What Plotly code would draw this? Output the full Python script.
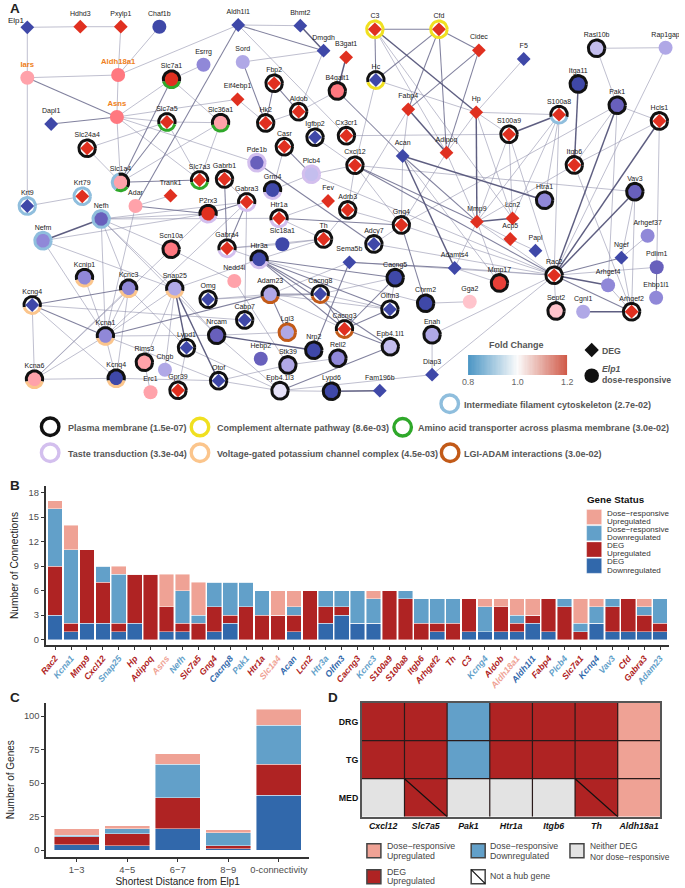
import numpy as np
import plotly.graph_objects as go

W, H = 685, 888
FONT = "Liberation Sans"
INK = "#4D4D4D"
C_DR_UP, C_DR_DOWN, C_DEG_UP, C_DEG_DOWN = "#EFA295", "#62A0C9", "#AF2323", "#3168AB"

# ---------------- Panel A data ----------------
node_names = ["Elp1","Hdhd3","Pxylp1","Chaf1b","Aldh1l1","Bhmt2","Dmgdh","B3gat1","Iars","Aldh18a1","Slc7a1","Esrrg","Sord","Fbp2","B4galt1","Eif4ebp1","Aldob","Asns","Dapl1","Slc7a5","Slc36a1","Hk2","Igfbp2","Cx3cr1","Slc24a4","Casr","Pde1b","Plcb4","Slc1a4","Slc7a3","Gabrb1","Grm4","Krt9","Krt79","Trank1","Adar","P2rx3","Gabra3","Fev","Nefh","Htr1a","Adrb3","Th","Nefm","Scn10a","Gabra4","Slc18a1","Htr3a","Nedd4l","Kcnip1","Kcnc3","Snap25","Omg","Adam23","Cacng8","Kcng4","Cabp7","Kcna1","Nrcam","Lypd1","Lgi3","Cacng3","Nrp2","Hebp2","Rims3","Chgb","Kcnq4","Kcna6","Stk39","Rell2","Otof","Gpr39","Erc1","Epb4.1l3","Lypd6","Fam196b","C3","Cfd","Cidec","F5","Rasl10b","Rap1gap","Hc","Itga11","Fabp4","Hp","S100a8","Pak1","Hcls1","S100a9","Acan","Adipoq","Cxcl12","Itgb6","Htra1","Vav3","Gng4","Mmp9","Lcn2","Acp5","Arhgef37","Adcy7","Sema5b","Adamts4","Mmp17","Rac2","Papl","Ngef","Pdlim1","Arhgef4","Ehbp1l1","Sept2","Cgnl1","Arhgef2","Cacng5","Olfm3","Chrm2","Gga2","Enah","Epb4.1l1","Diap3"]
node_x = [20.7,74.7,116,155.3,235.7,299,322.7,345.7,20.7,113.3,167.7,200.3,240.3,272.3,336.7,235,297.3,112,45,163,217.7,263.7,314,346,81.7,282.7,254.7,310.3,115.7,196.3,221.7,270.7,20.7,76.7,166.7,131,205,244.3,327.3,96,277.3,347.3,322.7,36.7,167.3,224.3,280.7,257,231.7,79,124,171,205,268.3,319.3,25.7,242.3,100.3,213.7,183,285.7,344,312.7,258.7,140,161,111.3,28,286.3,337.3,215.7,174.3,146.3,278.3,330.7,380,375,440.3,481,526.7,601,671.3,376,582.3,409,478.3,562.7,622,665,511.7,403.3,448,354.7,578.3,548,640,402,479,515.3,513,653,374,349,456.3,502,557.7,538.7,626.3,662.3,612.7,661.7,559.7,587.3,636.7,395.7,390.3,426.7,471.7,433.3,390.7,433.3]
node_y = [27.3,26.7,26.7,26.7,25,25.7,50.7,57.3,77.7,75,79.3,64.7,62,83.3,91,99.3,111.7,117,124,122,122.7,123,137.3,135.7,148.3,146.7,162.7,174.3,182.3,180,179,190,206,196.3,195.7,206,213.7,202,201,219,218.3,210,239,240.7,249.3,248.3,244.3,259.3,281,277.7,288.3,288.7,299.3,294.3,294,305,320,336,335.3,347.7,332.3,329,350.3,358.7,362.3,369.7,378.3,379.3,365,358.3,380.7,390.3,392.3,390.7,391.3,390.7,29.3,29.3,50.3,59,48.3,47.7,80,84,109.3,112.3,114.7,105.3,121,134.3,156,152.7,165.3,165,200.3,191.7,225,221.7,218.3,239,235.7,244,262.3,268,283,275.3,250.7,257.7,267.3,285.3,297.7,311,311.7,311.7,277.7,309.3,303.3,301.7,334.7,346.7,374.7]
# pathway membership: K plasma membrane, Y complement, G amino acid, L taste,
# O potassium channel, I intermediate filament, U LGI-ADAM
node_sets = {"Slc7a1":"KG","Fbp2":"K","B4galt1":"K","Aldob":"K","Slc7a5":"KG","Slc36a1":"KG","Hk2":"K","Igfbp2":"K","Cx3cr1":"K","Slc24a4":"K","Casr":"K","Pde1b":"L","Plcb4":"L","Slc1a4":"KIG","Slc7a3":"KG","Gabrb1":"K","Grm4":"KL","Krt9":"I","Krt79":"I","P2rx3":"KL","Gabra3":"KL","Nefh":"I","Htr1a":"KL","Adrb3":"K","Th":"K","Nefm":"I","Scn10a":"K","Gabra4":"KL","Htr3a":"KL","Kcnip1":"KO","Kcnc3":"KO","Snap25":"KO","Omg":"K","Adam23":"KU","Cacng8":"KU","Kcng4":"KO","Cabp7":"K","Kcna1":"KO","Nrcam":"K","Lypd1":"K","Lgi3":"U","Cacng3":"KU","Nrp2":"K","Rims3":"K","Kcnq4":"KO","Kcna6":"KO","Stk39":"K","Rell2":"K","Otof":"K","Gpr39":"K","Epb4.1l3":"K","Lypd6":"K","C3":"Y","Cfd":"Y","Rasl10b":"K","Hc":"KY","Itga11":"K","S100a8":"KI","Pak1":"K","Hcls1":"K","S100a9":"K","Cxcl12":"K","Itgb6":"K","Htra1":"K","Vav3":"K","Gng4":"K","Adcy7":"K","Mmp17":"K","Rac2":"K","Sept2":"K","Arhgef2":"K","Cacng5":"K","Olfm3":"K","Chrm2":"K","Enah":"K","Epb4.1l1":"K"}
orange_labels = ["Iars", "Aldh18a1", "Asns"]

edges_light = "Elp1-Hdhd3 Hdhd3-Pxylp1 Elp1-Iars Pxylp1-Aldh18a1 Chaf1b-Aldh18a1 Aldh1l1-Aldh18a1 Aldh1l1-Bhmt2 Aldh1l1-Cx3cr1 Dmgdh-Sord Dmgdh-Aldob Iars-Aldh18a1 Iars-Krt9 Aldh18a1-Asns Asns-Slc7a1 Asns-Slc7a5 Asns-Eif4ebp1 Asns-Slc1a4 Asns-Slc7a3 Asns-Pde1b Slc7a1-Esrrg Slc7a1-Slc36a1 Slc7a5-Slc36a1 Slc7a5-Slc24a4 Slc7a5-Slc7a3 Slc36a1-Slc1a4 Slc36a1-Slc7a3 Slc24a4-Slc1a4 Eif4ebp1-Hk2 Hk2-Aldob Aldob-B4galt1 Plcb4-Grm4 Casr-Grm4 Plcb4-Cxcl12 Krt9-Krt79 Adar-Trank1 Adar-Kcna1 Gabrb1-Gabra3 Gabra3-Cabp7 Nedd4l-Stk39 Gabra3-Kcna1 P2rx3-Scn10a Scn10a-Kcna6 Scn10a-Nedd4l Nefh-P2rx3 Nefh-Scn10a Nefh-Kcna1 Nefh-Kcnc3 Nefh-Snap25 Nefh-Nrcam Nefh-Htr1a Nefm-Kcna1 Nefm-Snap25 Nefm-P2rx3 Kcnip1-Kcna1 Kcnc3-Kcna1 Kcnc3-Kcnq4 Kcnc3-Kcna6 Kcnc3-Lypd1 Kcng4-Kcna6 Kcng4-Kcnq4 Kcng4-Cabp7 Kcna1-Kcnq4 Kcna1-Kcna6 Kcna1-Snap25 Kcna1-Nrcam Kcna1-Otof Kcna6-Kcnq4 Kcnq4-Otof Snap25-Rims3 Snap25-Chgb Snap25-Nrcam Snap25-Htr3a Rims3-Erc1 Lypd1-Gpr39 Lypd1-Epb4.1l3 Nrcam-Epb4.1l3 Nrcam-Lgi3 Omg-Adam23 Omg-Cacng8 Otof-Stk39 Otof-Epb4.1l3 Epb4.1l3-Lypd6 Stk39-Rell2 Adam23-Cacng3 Adam23-Olfm3 Cacng8-Olfm3 Cacng8-Cacng5 Cacng5-Olfm3 Htr3a-Chrm2 Gabra4-Slc18a1 Gabra4-Th Slc18a1-Th Htr3a-Th Htr1a-Th Htr1a-Fev Gabra4-Htr3a Th-Adrb3 Adrb3-Gng4 Adrb3-Cxcl12 Gng4-Adcy7 Gng4-Adipoq Gng4-Pak1 Sema5b-Adam23 Adcy7-Rac2 Sema5b-Rac2 Adamts4-Mmp17 Adamts4-Mmp9 Adamts4-Rac2 Chrm2-Gga2 Enah-Rac2 Enah-Diap3 Diap3-Rac2 Diap3-Epb4.1l3 C3-Adipoq C3-Lcn2 Hc-Hp Hc-Cxcl12 F5-Hp Hp-S100a8 Hp-S100a9 Hp-Lcn2 Fabp4-Acan Fabp4-Adrb3 Adipoq-Mmp9 Adipoq-Hp Cx3cr1-S100a9 S100a9-Lcn2 S100a9-Rac2 S100a9-Mmp9 S100a8-Mmp9 S100a8-Lcn2 S100a8-Htra1 S100a8-Rac2 Rasl10b-Rap1gap Rasl10b-Pak1 Rap1gap-Rac2 Pak1-Hcls1 Pak1-Itgb6 Pak1-Arhgef4 Hcls1-Itgb6 Hcls1-Pdlim1 Itgb6-Mmp9 Itgb6-Arhgef2 Vav3-Ngef Vav3-Arhgef2 Cxcl12-Vav3 Acan-Gng4 Acan-Mmp17 Mmp9-Acp5 Mmp9-Rac2 Mmp9-Mmp17 Acp5-Papl Gng4-Rac2 Rac2-Sept2 Rac2-Pdlim1 Ngef-Arhgef37 Ngef-Arhgef2 Arhgef4-Arhgef2 Igfbp2-Cxcl12 Plcb4-Rac2 Nefh-Gabra3 Cxcl12-Gng4".split()
edges_mid = "Aldh1l1-Dmgdh Aldh1l1-Adar Iars-Asns Asns-Dapl1 Slc7a1-Slc1a4 Slc7a5-Slc1a4 Slc1a4-Slc7a3 Sord-Hk2 Hk2-Fbp2 Fbp2-Aldob B4galt1-Acan Casr-Plcb4 Pde1b-Adcy7 Adar-P2rx3 P2rx3-Gabra3 Gabrb1-Gabra4 Gabra3-Gabra4 Kcng4-Kcnc3 Kcng4-Kcna1 Kcna1-Adam23 Adam23-Cacng8 Adam23-Lgi3 Cacng8-Cacng3 Cacng3-Olfm3 Cacng3-Cacng5 Cacng3-Epb4.1l1 Htr3a-Cacng8 Htr3a-Cacng3 Htr3a-Cacng5 Htr3a-Olfm3 Htr3a-Epb4.1l1 Htr1a-Gng4 Gng4-Chrm2 Sema5b-Adamts4 Sema5b-Nrp2 Epb4.1l1-Epb4.1l3 C3-Cfd C3-Hc Cfd-Hc Cfd-Cidec Cfd-Fabp4 Cfd-Adipoq Cidec-Fabp4 Cidec-Adipoq Acan-Mmp9 Cxcl12-Mmp9 Cxcl12-Rac2 Rac2-Ngef Rac2-Arhgef2 Pdlim1-Ehbp1l1".split()
edges_dark = "Bhmt2-Dmgdh B3gat1-B4galt1 Nefh-Nefm Snap25-Otof Snap25-Lypd1 Nrcam-Nrp2 Fam196b-Lypd6 C3-Hp Hp-Mmp9 Fabp4-Adipoq S100a9-S100a8 Itga11-Itgb6 Pak1-Rac2 Hcls1-Rac2 Vav3-Rac2 Acan-Htra1 Acan-Adamts4 Mmp9-Lcn2 Rac2-Arhgef4 Cgnl1-Arhgef2".split()

# ---------------- Panel B data ----------------
hub_genes = ["Rac2","Kcna1","Mmp9","Cxcl12","Snap25","Hp","Adipoq","Asns","Nefh","Slc7a5","Gng4","Cacng8","Pak1","Htr1a","Slc1a4","Acan","Lcn2","Htr3a","Olfm3","Cacng3","Kcnc3","S100a9","S100a8","Itgb6","Arhgef2","Th","C3","Kcng4","Aldob","Aldh18a1","Aldh1l1","Fabp4","Plcb4","Slc7a1","Kcnq4","Vav3","Cfd","Gabra3","Adam23"]
hub_status = ["DU","RD","DU","DU","RD","DU","DU","RU","RD","DU","DU","DD","RD","DU","RU","DD","DU","RD","DD","DU","RD","DU","DU","DU","DU","DU","DU","RD","DU","RU","DD","DU","RD","DU","DD","RD","DU","DU","RD"]
b_deg_down = [3,1,2,2,1,2,0,1,1,0,1,2,0,0,0,1,0,2,3,2,2,0,0,0,1,0,1,1,1,1,2,1,0,0,2,1,1,1,1]
b_deg_up   = [6,1,9,5,1,6,8,3,1,2,3,1,4,3,3,2,6,2,1,0,0,6,5,2,1,2,4,0,3,1,1,4,4,1,0,3,4,2,1]
b_dr_down  = [7,9,0,2,6,0,0,0,4,1,3,4,3,3,0,1,0,2,2,4,3,0,1,3,3,3,0,3,0,1,0,0,1,1,2,1,0,1,3]
b_dr_up    = [1,3,0,0,1,0,0,4,2,4,0,0,0,0,3,2,0,0,0,0,1,0,0,0,0,0,0,1,1,2,2,0,0,3,1,0,0,1,0]

# ---------------- Panel C data ----------------
c_bins = ["1\u22123","4\u22125","6\u22127","8\u22129","0-connectivity"]
c_deg_down = [4,3,16,1,41]
c_deg_up   = [6,9,23,2,23]
c_dr_down  = [1,4,25,10,29]
c_dr_up    = [5,2,8,2,12]

# ---------------- Panel D data ----------------
d_genes = ["Cxcl12","Slc7a5","Pak1","Htr1a","Itgb6","Th","Aldh18a1"]
d_tissues = ["DRG","TG","MED"]
d_drg = ["DU","DU","RD","DU","DU","DU","RU"]
d_tg  = ["DU","DU","RD","DU","DU","DU","RU"]
d_med = ["NA","DU","NA","NA","NA","DU","RU"]
d_not_hub = [("Slc7a5","MED"),("Th","MED")]

# ---------------- Styles ----------------
fc_color = {"b":"#3F48A8","v1":"#6860BC","v2":"#9088D8","v3":"#B0A8E6","v4":"#C4BEEE","v5":"#E6E2F8",
            "r":"#E03020","e":"#E84038","p2":"#FF7880","p":"#FFA2AA","s":"#FFC4CC"}
set_color = {"K":"#111111","Y":"#F0E020","G":"#2FA82A","L":"#D3BFEE","O":"#FBC58C","I":"#8FBEDD","U":"#C25A18"}
status_color = {"DD":C_DEG_DOWN,"DU":C_DEG_UP,"RD":C_DR_DOWN,"RU":C_DR_UP}
pos = {n:(x,y) for n,x,y in zip(node_names,node_x,node_y)}
diamonds = set("Elp1 Hdhd3 Pxylp1 Aldh1l1 Bhmt2 Dmgdh B3gat1 Fbp2 Eif4ebp1 Aldob Dapl1 Slc7a5 Hk2 Igfbp2 Cx3cr1 Slc24a4 Casr Slc7a3 Gabrb1 Krt9 Krt79 Trank1 Gabra3 Fev Htr1a Adrb3 Th Gabra4 Omg Cacng8 Kcng4 Cabp7 Lypd1 Cacng3 Otof Gpr39 Fam196b C3 Cfd Cidec F5 Hc Fabp4 Hp S100a8 Hcls1 S100a9 Acan Adipoq Cxcl12 Itgb6 Gng4 Mmp9 Lcn2 Acp5 Adcy7 Sema5b Adamts4 Rac2 Papl Ngef Arhgef2 Olfm3 Diap3".split())
reds = set("Hdhd3 Pxylp1 B3gat1 Slc7a1 Fbp2 Eif4ebp1 Aldob Slc7a5 Hk2 Cx3cr1 Slc24a4 Casr Slc7a3 Gabrb1 Krt79 Trank1 P2rx3 Gabra3 Fev Htr1a Adrb3 Th Gabra4 Cacng3 Gpr39 C3 Cfd Cidec Fabp4 Hp S100a8 Hcls1 S100a9 Adipoq Cxcl12 Itgb6 Gng4 Mmp9 Lcn2 Acp5 Rac2 Arhgef2".split())
class_of = {"Chaf1b":"b","Iars":"p","Aldh18a1":"p2","Asns":"p2","Esrrg":"v2","Sord":"v3","B4galt1":"p2","Slc36a1":"p","Pde1b":"v1","Plcb4":"v4","Slc1a4":"p","Grm4":"b","Adar":"p","Nefh":"v1","Nefm":"v2","Scn10a":"p2","Slc18a1":"b","Htr3a":"b","Nedd4l":"p","Kcnip1":"v2","Kcnc3":"v2","Snap25":"v3","Adam23":"v3","Kcna1":"v2","Nrcam":"v1","Lgi3":"v3","Nrp2":"b","Hebp2":"v1","Rims3":"p","Chgb":"v3","Kcnq4":"b","Kcna6":"p","Stk39":"v3","Rell2":"v2","Erc1":"p","Epb4.1l3":"v5","Lypd6":"b","Rasl10b":"v4","Rap1gap":"v3","Itga11":"b","Pak1":"v1","Htra1":"v2","Vav3":"v1","Arhgef37":"v2","Mmp17":"e","Pdlim1":"v1","Arhgef4":"v2","Ehbp1l1":"v2","Sept2":"s","Cgnl1":"v3","Cacng5":"b","Chrm2":"b","Gga2":"s","Enah":"v3","Epb4.1l1":"v4"}
def node_color(n):
    if n in reds: return fc_color["r"]
    if n in class_of: return fc_color[class_of[n]]
    return fc_color["b"]

def px_x(a, b): return [a/W, b/W]
def px_y(top, bottom): return [1-bottom/H, 1-top/H]

fig = go.Figure()

def edge_trace(edges, color, width):
    xs, ys = [], []
    for e in edges:
        a, b = e.split("-")
        xs += [pos[a][0], pos[b][0], None]
        ys += [pos[a][1], pos[b][1], None]
    fig.add_trace(go.Scatter(x=xs, y=ys, mode="lines", line=dict(color=color, width=width), hoverinfo="skip"))

edge_trace(edges_light, "rgba(140,140,168,0.7)", 0.8)
edge_trace(edges_mid, "rgba(112,112,145,0.88)", 1.05)
edge_trace(edges_dark, "rgba(85,85,122,0.95)", 1.45)

ringed = [n for n in node_names if n in node_sets]
plain_c = [n for n in node_names if n not in node_sets and n not in diamonds]
fig.add_trace(go.Scatter(x=[pos[n][0] for n in ringed], y=[pos[n][1] for n in ringed], mode="markers",
    marker=dict(size=16, color="white"), hoverinfo="skip"))
circ_ring = [n for n in ringed if n not in diamonds]
fig.add_trace(go.Scatter(x=[pos[n][0] for n in circ_ring], y=[pos[n][1] for n in circ_ring], mode="markers",
    marker=dict(size=15.5, color=[node_color(n) for n in circ_ring]), hoverinfo="skip"))
fig.add_trace(go.Scatter(x=[pos[n][0] for n in plain_c], y=[pos[n][1] for n in plain_c], mode="markers",
    marker=dict(size=14, color=[node_color(n) for n in plain_c]), hoverinfo="skip"))

# pathway rings, split when a gene belongs to more than one pathway
arcs = {k:([],[]) for k in set_color}
def add_arc(key, x, y, a0, a1, r=8.4):
    t = np.radians(np.linspace(a0, a1, 28))
    arcs[key][0].extend(list(x + r*np.cos(t)) + [None])
    arcs[key][1].extend(list(y + r*np.sin(t)) + [None])
for n in ringed:
    x, y = pos[n]; s = node_sets[n]
    if len(s) == 1:
        add_arc(s, x, y, 0, 360)
    elif len(s) == 2:
        add_arc(s[1], x, y, 15, 165)
        add_arc(s[0], x, y, 165, 375)
    else:
        add_arc(s[2], x, y, 35, 125)
        add_arc(s[1], x, y, 125, 255)
        add_arc(s[0], x, y, 255, 395)
for k, (xs, ys) in arcs.items():
    if xs:
        fig.add_trace(go.Scatter(x=xs, y=ys, mode="lines", line=dict(color=set_color[k], width=3), hoverinfo="skip"))

dn = [n for n in node_names if n in diamonds]
fig.add_trace(go.Scatter(x=[pos[n][0] for n in dn], y=[pos[n][1] for n in dn], mode="markers",
    marker=dict(symbol="diamond", size=10.6, color=[node_color(n) for n in dn]), hoverinfo="skip"))

labelled = [n for n in node_names if n != "Elp1"]
fig.add_trace(go.Scatter(x=[pos[n][0] for n in labelled], y=[pos[n][1]-12.8 for n in labelled], mode="text",
    text=[f"<b>{n}</b>" if n in orange_labels else n for n in labelled],
    textposition="middle center",
    textfont=dict(family=FONT, size=[7.7 if n in orange_labels else 7 for n in labelled],
                  color=["#F08020" if n in orange_labels else "#1A1A1A" for n in labelled]),
    hoverinfo="skip"))

def note(x, y, text, size=9, color=INK, anchor="left", angle=0):
    fig.add_annotation(x=x, y=y, xref="x", yref="y", text=text, showarrow=False, xanchor=anchor, yanchor="middle",
                       textangle=angle, font=dict(family=FONT, size=size, color=color), borderpad=0, borderwidth=0)

note(1, 20, "Elp1", 8, "#222222")
for x, y, t in [(8,8,"A"),(8,485,"B"),(8,697,"C"),(332,697,"D")]:
    note(x, y, f"<b>{t}</b>", 13.5, "#222222", "center")

# pathway legend rings
ring_legend = [("K",44,426.7,61.7,"Plasma membrane (1.5e-07)"),("Y",196.7,427,213.7,"Complement alternate pathway (8.6e-03)"),
               ("G",403.3,427.3,419.3,"Amino acid transporter across plasma membrane (3.0e-02)"),
               ("L",44,452.7,61.7,"Taste transduction (3.3e-04)"),("O",196.7,452.7,213.7,"Voltage-gated potassium channel complex (4.5e-03)"),
               ("U",451.7,452.7,466,"LGI-ADAM interactions (3.0e-02)"),("I",451.3,403.7,466,"Intermediate filament cytoskeleton (2.7e-02)")]
for k, cx, cy, tx, label in ring_legend:
    fig.add_trace(go.Scatter(x=[cx], y=[cy], mode="markers", hoverinfo="skip",
        marker=dict(size=17.5, color="white", line=dict(color=set_color[k], width=3.4))))
    note(tx, cy+0.8, f"<b>{label}</b>", 9, "#555555")

fig.add_trace(go.Scatter(x=[596], y=[350], mode="markers", marker=dict(symbol="diamond", size=11, color="#111111"), hoverinfo="skip"))
fig.add_trace(go.Scatter(x=[596], y=[375.7], mode="markers", marker=dict(size=14.5, color="#111111"), hoverinfo="skip"))
note(606, 351, "<b>DEG</b>", 8.7, "#555555")
note(606, 369, "<b><i>Elp1</i></b>", 8.7, "#555555")
note(606, 380, "<b>dose-responsive</b>", 8.7, "#555555")
note(519, 345, "<b>Fold Change</b>", 9, "#555555", "center")

# fold change bar
fc_values = list(np.linspace(0.8, 1.2, 81))
fig.add_trace(go.Heatmap(x=fc_values, y=[0], z=[fc_values], xaxis="x5", yaxis="y5", showscale=False, zmin=0.8, zmax=1.2,
    colorscale=[[0,"#4A95C4"],[0.5,"#FBFBFB"],[1,"#D05A48"]], hoverinfo="skip"))

# ---- Panel B bars
b_series = [("DEG Downregulated",b_deg_down,C_DEG_DOWN),("DEG Upregulated",b_deg_up,C_DEG_UP),
            ("Dose-responsive Downregulated",b_dr_down,C_DR_DOWN),("Dose-responsive Upregulated",b_dr_up,C_DR_UP)]
for name, vals, col in b_series:
    fig.add_trace(go.Bar(x=list(range(len(hub_genes))), y=vals, name=name, marker=dict(color=col, line=dict(color="rgba(255,255,255,0.55)", width=0.8)),
                         width=0.92, xaxis="x2", yaxis="y2", hoverinfo="skip"))
# ---- Panel C bars
c_series = [("DEG Downregulated",c_deg_down,C_DEG_DOWN),("DEG Upregulated",c_deg_up,C_DEG_UP),
            ("Dose-responsive Downregulated",c_dr_down,C_DR_DOWN),("Dose-responsive Upregulated",c_dr_up,C_DR_UP)]
for name, vals, col in c_series:
    fig.add_trace(go.Bar(x=list(range(len(c_bins))), y=vals, name=name, marker=dict(color=col, line=dict(color="rgba(255,255,255,0.55)", width=0.8)),
                         width=0.89, xaxis="x3", yaxis="y3", hoverinfo="skip"))

# ---- Panel D grid
status_index = {"RU":0,"RD":1,"DU":2,"NA":3}
d_rows = [d_drg, d_tg, d_med]
fig.add_trace(go.Heatmap(x=list(range(7)), y=list(range(3)), z=[[status_index[s] for s in r] for r in d_rows],
    xaxis="x4", yaxis="y4", showscale=False, zmin=0, zmax=3, hoverinfo="skip",
    colorscale=[[0,C_DR_UP],[1/3,C_DR_DOWN],[2/3,C_DEG_UP],[1,"#E3E3E3"]]))
gx, gy = [], []
for i in range(1, 7): gx += [i-0.5, i-0.5, None]; gy += [-0.5, 2.5, None]
for j in range(1, 3): gx += [-0.5, 6.5, None]; gy += [j-0.5, j-0.5, None]
fig.add_trace(go.Scatter(x=gx, y=gy, mode="lines", line=dict(color="#2A1A1A", width=1.2), xaxis="x4", yaxis="y4", hoverinfo="skip"))
dx, dy = [], []
for g, t in d_not_hub:
    c, r = d_genes.index(g), d_tissues.index(t)
    dx += [c-0.5, c+0.5, None]; dy += [r-0.5, r+0.5, None]
fig.add_trace(go.Scatter(x=dx, y=dy, mode="lines", line=dict(color="#111111", width=1.2), xaxis="x4", yaxis="y4", hoverinfo="skip"))

# Gene Status legend
note(591, 499.5, "<b>Gene Status</b>", 9.8, "#111111")
gs = [(C_DR_UP,517,"Dose\u2212responsive","Upregulated"),(C_DR_DOWN,533.2,"Dose\u2212responsive","Downregulated"),
      (C_DEG_UP,549.5,"DEG","Upregulated"),(C_DEG_DOWN,565.8,"DEG","Downregulated")]
for col, y, a, b in gs:
    fig.add_trace(go.Scatter(x=[598.5], y=[y], mode="markers", hoverinfo="skip",
        marker=dict(symbol="square", size=15, color=col, line=dict(color="rgba(255,255,255,0.5)", width=0.6))))
    note(611.7, y-3.9, a, 8, "#333333")
    note(611.7, y+4.4, b, 8, "#333333")

# Panel D legend
dl = [(374,850.7,C_DR_UP,387.3,["Dose\u2212responsive","Upregulated"],[846.2,855.6],8.8),
      (480.3,850.7,C_DR_DOWN,492,["Dose\u2212responsive","Downregulated"],[846.2,855.6],8.8),
      (581,850.7,"#E3E3E3",594.7,["Neither DEG","Nor dose\u2212responsive"],[845.7,856.7],8.4),
      (374,876.7,C_DEG_UP,387.3,["DEG","Upregulated"],[872,881.2],8.8),
      (480.3,876.7,"white",492,["Not a hub gene"],[875.7],8.8)]
for x, y, col, tx, lines, ys, fs in dl:
    fig.add_trace(go.Scatter(x=[x], y=[y], mode="markers", hoverinfo="skip",
        marker=dict(symbol="square", size=14, color=col, line=dict(color="#444444", width=1.5))))
    for t, yy in zip(lines, ys):
        note(tx, yy, t, fs, "#444444")
fig.add_trace(go.Scatter(x=[480.3], y=[876.7], mode="markers", hoverinfo="skip",
    marker=dict(symbol="line-nw", size=14, line=dict(color="#111111", width=1.2))))

# hub gene tick labels
hub_text = [f'<span style="color:{status_color[s]}"><b><i>{g}</i></b></span>' for g, s in zip(hub_genes, hub_status)]

axis_line = dict(showline=True, linecolor="#333333", linewidth=1.6, zeroline=False, showgrid=False,
                 ticks="outside", ticklen=3, tickcolor="#333333", tickwidth=1)
hidden = dict(visible=False, showgrid=False, zeroline=False)

fig.update_layout(
    width=W, height=H, margin=dict(l=0, r=0, t=0, b=0), paper_bgcolor="white", plot_bgcolor="rgba(0,0,0,0)",
    showlegend=False, barmode="stack", font=dict(family=FONT, color=INK),
    xaxis=dict(domain=[0,1], range=[0,W], **hidden),
    yaxis=dict(domain=[0,1], range=[H,0], **hidden),
    xaxis2=dict(domain=px_x(39.3,675), anchor="y2", range=[-0.6,38.57], tickmode="array",
                tickvals=list(range(len(hub_genes))), ticktext=hub_text, tickangle=-50,
                tickfont=dict(family=FONT, size=8.8), **axis_line),
    yaxis2=dict(domain=px_y(486,645), anchor="x2", range=[-0.65,18.8], tickmode="array", tickvals=[0,3,6,9,12,15,18],
                tickfont=dict(family=FONT, size=9.4, color=INK),
                title=dict(text="Number of Connections", font=dict(family=FONT, size=10.2, color="#222222"), standoff=8), **axis_line),
    xaxis3=dict(domain=px_x(40,308), anchor="y3", range=[-0.6,4.6], tickmode="array", tickvals=list(range(5)), ticktext=c_bins,
                tickfont=dict(family=FONT, size=9.4, color=INK),
                title=dict(text="Shortest Distance from Elp1", font=dict(family=FONT, size=10, color="#222222"), standoff=4), **axis_line),
    yaxis3=dict(domain=px_y(702.7,856.7), anchor="x3", range=[-5,110], tickmode="array", tickvals=[0,25,50,75,100],
                tickfont=dict(family=FONT, size=9.4, color=INK),
                title=dict(text="Number of Genes", font=dict(family=FONT, size=10, color="#222222"), standoff=7), **axis_line),
    xaxis4=dict(domain=px_x(361.7,666), anchor="y4", range=[-0.5,6.5], tickmode="array", tickvals=list(range(7)),
                ticktext=[f"<b><i>{g}</i></b>" for g in d_genes], ticks="", showgrid=False, zeroline=False,
                tickfont=dict(family=FONT, size=8.8, color="#111111"), showline=True, linecolor="#555555", linewidth=1.6, mirror=True),
    yaxis4=dict(domain=px_y(702.7,816.7), anchor="x4", range=[2.5,-0.5], tickmode="array", tickvals=list(range(3)),
                ticktext=[f"<b>{t}</b>" for t in d_tissues], ticks="", showgrid=False, zeroline=False,
                tickfont=dict(family=FONT, size=8.8, color="#111111"), showline=True, linecolor="#555555", linewidth=1.6, mirror=True),
    xaxis5=dict(domain=px_x(470,571), anchor="y5", range=[0.8,1.2], tickmode="array", tickvals=[0.8,1.0,1.2],
                ticktext=["0.8","1.0","1.2"], ticks="", showgrid=False, zeroline=False, tickfont=dict(family=FONT, size=8.9, color="#666666")),
    yaxis5=dict(domain=px_y(355,375), anchor="x5", range=[-0.5,0.5], **hidden),
)
fig.write_html("out.html", config={"displayModeBar": False},
               post_script="document.body.style.margin='0';document.documentElement.style.overflow='hidden';")
